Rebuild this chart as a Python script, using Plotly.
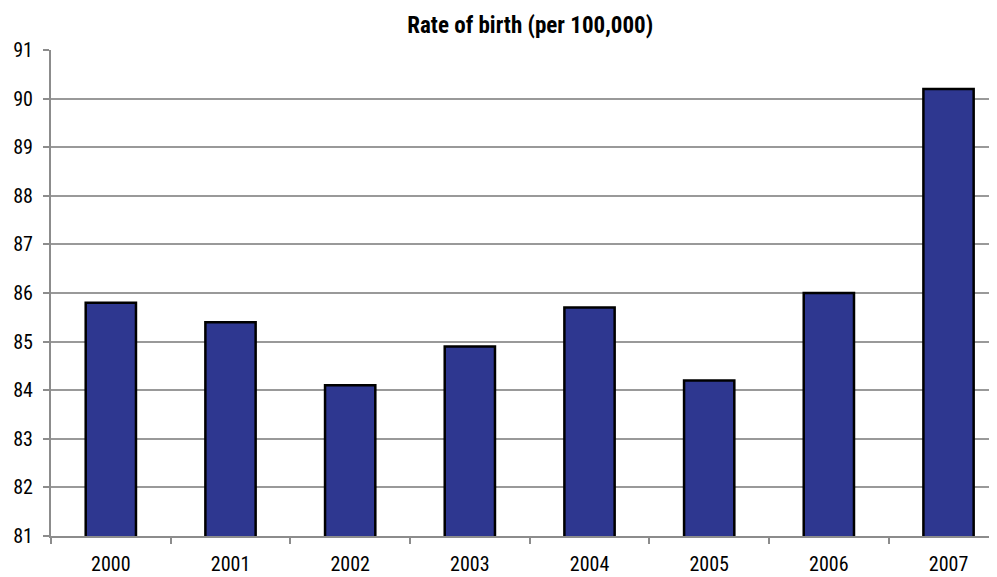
import plotly.graph_objects as go

years = ["2000", "2001", "2002", "2003", "2004", "2005", "2006", "2007"]
rates = [85.8, 85.4, 84.1, 84.9, 85.7, 84.2, 86.0, 90.2]
y_ticks = list(range(81, 92))

FONT = "Liberation Sans Narrow, Roboto Condensed, Arial Narrow, Roboto, sans-serif"

fig = go.Figure(go.Bar(
    x=years, y=rates, width=0.42,
    marker=dict(color="#2E3790", line=dict(color="#000000", width=2.5)),
))

# page body has an 8px default margin; figure sized to fill the remaining window
fig.update_layout(
    width=989, height=569,
    margin=dict(l=43, r=0, t=42, b=41, autoexpand=False),
    plot_bgcolor="white", paper_bgcolor="white",
    showlegend=False,
    title=dict(text="<b>Rate of birth (per 100,000)</b>", x=0.528, xanchor="center",
               y=0.971, yanchor="middle",
               font=dict(family=FONT, size=23, color="#000000")),
    font=dict(family=FONT, size=20, color="#000000"),
)
fig.update_xaxes(
    type="category", range=[-0.5, 7.405], automargin=False,
    showline=True, linecolor="#8C8C8C", linewidth=2,
    ticks="outside", tickson="boundaries", ticklen=6, tickcolor="#8C8C8C", tickwidth=1.5,
    showgrid=False, tickfont=dict(size=20), ticklabelstandoff=9,
)
fig.update_yaxes(
    range=[81, 91], tickvals=y_ticks, automargin=False,
    showline=True, linecolor="#8C8C8C", linewidth=2,
    ticks="outside", ticklen=6, tickcolor="#8C8C8C", tickwidth=1.5,
    showgrid=True, gridcolor="#999999", gridwidth=1.5,
    tickfont=dict(size=20), ticklabelstandoff=6, zeroline=False,
)

fig.write_html("out.html")
